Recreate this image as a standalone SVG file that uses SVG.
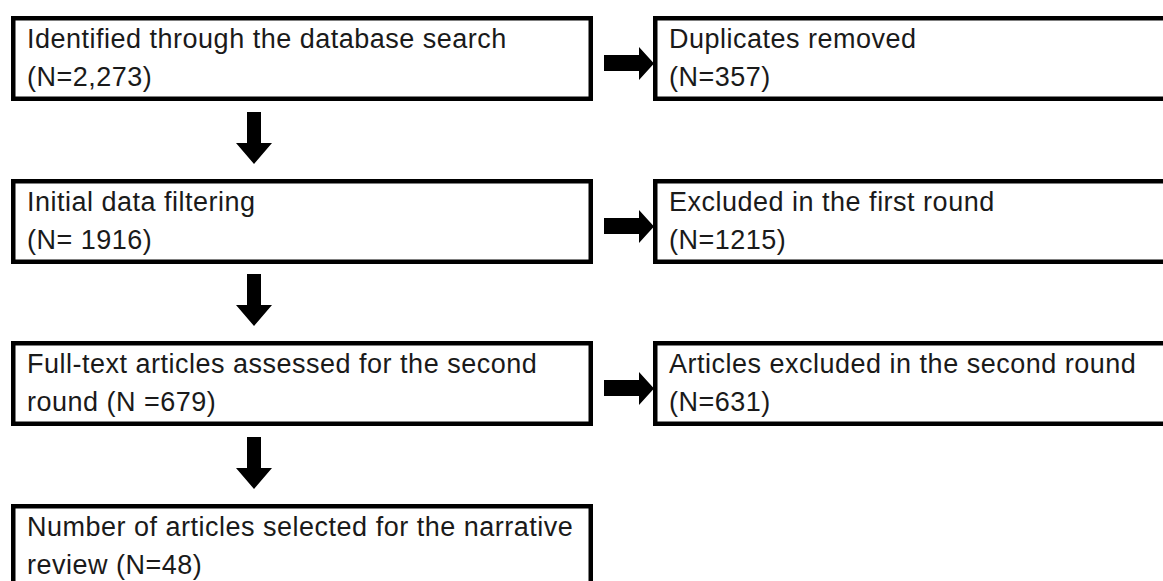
<svg xmlns="http://www.w3.org/2000/svg" width="1163" height="581" viewBox="0 0 1163 581">
  <style>
    .box { fill: #ffffff; stroke: #000000; stroke-width: 4.5; }
    .lbl { font-family: "Liberation Sans", Arial, sans-serif; font-size: 27px; letter-spacing: 0.5px; fill: #1a1a1a; }
    .arr { fill: #000000; stroke: none; }
  </style>
  <rect width="1163" height="581" fill="#ffffff"/>

  <g id="connectors">
    <!-- down arrows -->
    <polygon class="arr" points="247,112 261,112 261,143 272,143 254,164 236,143 247,143"/>
    <polygon class="arr" points="247,274 261,274 261,305 272,305 254,326 236,305 247,305"/>
    <polygon class="arr" points="247,437 261,437 261,468 272,468 254,489 236,468 247,468"/>
    <!-- right arrows -->
    <polygon class="arr" points="604,55 639,55 639,47 654,63.5 639,80 639,71 604,71"/>
    <polygon class="arr" points="604,218 639,218 639,210 654,226.5 639,243 639,234 604,234"/>
    <polygon class="arr" points="604,380 639,380 639,372 654,388.5 639,405 639,396 604,396"/>
  </g>

  <g id="node-identified">
    <rect class="box" x="13.25" y="18.25" width="577.5" height="80.5"/>
    <text class="lbl" x="27" y="48">Identified through the database search</text>
    <text class="lbl" x="27" y="86">(N=2,273)</text>
  </g>

  <g id="node-duplicates">
    <rect class="box" x="655.25" y="18.25" width="520" height="80.5"/>
    <text class="lbl" x="669" y="48">Duplicates removed</text>
    <text class="lbl" x="669" y="86">(N=357)</text>
  </g>

  <g id="node-initial">
    <rect class="box" x="13.25" y="181.25" width="577.5" height="80.5"/>
    <text class="lbl" x="27" y="211">Initial data filtering</text>
    <text class="lbl" x="27" y="249" xml:space="preserve">(N= 1916)</text>
  </g>

  <g id="node-excluded-first">
    <rect class="box" x="655.25" y="181.25" width="520" height="80.5"/>
    <text class="lbl" x="669" y="211">Excluded in the first round</text>
    <text class="lbl" x="669" y="249">(N=1215)</text>
  </g>

  <g id="node-fulltext">
    <rect class="box" x="13.25" y="343.25" width="577.5" height="80.5"/>
    <text class="lbl" x="27" y="373">Full-text articles assessed for the second</text>
    <text class="lbl" x="27" y="411" xml:space="preserve">round (N =679)</text>
  </g>

  <g id="node-excluded-second">
    <rect class="box" x="655.25" y="343.25" width="520" height="80.5"/>
    <text class="lbl" x="669" y="373">Articles excluded in the second round</text>
    <text class="lbl" x="669" y="411">(N=631)</text>
  </g>

  <g id="node-selected">
    <rect class="box" x="13.25" y="506.25" width="577.5" height="80.5"/>
    <text class="lbl" x="27" y="536">Number of articles selected for the narrative</text>
    <text class="lbl" x="27" y="574">review (N=48)</text>
  </g>
</svg>
